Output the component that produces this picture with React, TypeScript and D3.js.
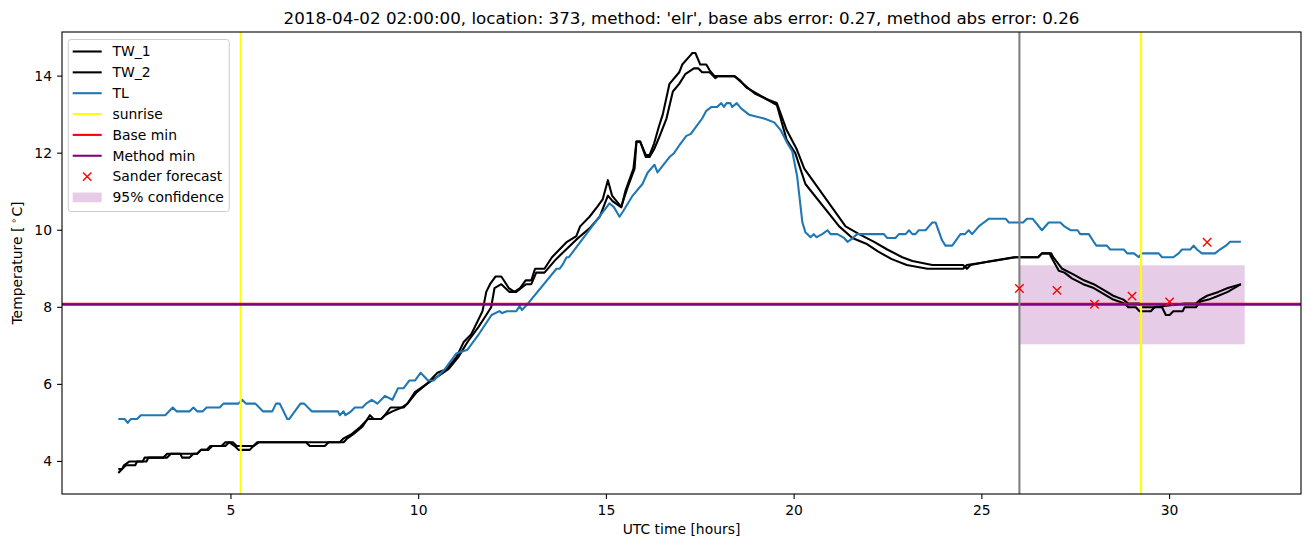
import * as d3 from "d3";

// hour, temperature pairs
const tw1: [number, number][] = [
  [2.0, 3.7], [2.1, 3.8], [2.2, 3.9], [2.45, 3.9], [2.5, 4.0], [2.75, 4.0], [2.8, 4.1], [3.3, 4.1],
  [3.4, 4.2], [4.1, 4.2], [4.2, 4.3], [4.4, 4.3], [4.5, 4.4], [4.85, 4.4], [4.95, 4.5], [5.05, 4.5],
  [5.15, 4.4], [5.6, 4.4], [5.7, 4.5], [7.0, 4.5], [7.1, 4.4], [7.5, 4.4], [7.6, 4.5], [8.0, 4.5],
  [8.1, 4.6], [8.25, 4.7], [8.5, 4.9], [8.7, 5.2], [8.8, 5.1], [9.0, 5.1], [9.1, 5.2], [9.25, 5.4],
  [9.6, 5.4], [9.7, 5.5], [9.9, 5.8], [10.2, 6.0], [10.5, 6.3], [10.75, 6.4], [11.0, 6.7], [11.2, 7.1],
  [11.4, 7.3], [11.55, 7.6], [11.7, 7.9], [11.8, 8.4], [11.9, 8.6], [12.05, 8.8], [12.2, 8.8],
  [12.4, 8.5], [12.55, 8.4], [12.7, 8.5], [12.85, 8.7], [13.0, 8.7], [13.1, 9.0], [13.35, 9.0],
  [13.55, 9.3], [13.95, 9.7], [14.2, 9.85], [14.3, 10.1], [14.55, 10.35], [14.75, 10.6], [14.9, 10.8],
  [15.04, 11.3], [15.15, 10.9], [15.4, 10.6], [15.5, 11.0], [15.72, 11.6], [15.8, 12.3], [15.9, 12.3],
  [16.05, 11.95], [16.15, 11.95], [16.27, 12.25], [16.4, 12.7], [16.5, 13.0], [16.68, 13.8],
  [16.94, 14.1], [17.02, 14.3], [17.2, 14.5], [17.29, 14.6], [17.37, 14.6], [17.5, 14.3], [17.66, 14.3],
  [17.75, 14.15], [17.88, 14.0], [18.41, 14.0], [18.55, 13.9], [18.73, 13.7], [19.0, 13.55],
  [19.27, 13.4], [19.54, 13.3], [19.8, 12.6], [20.07, 12.1], [20.27, 11.6], [20.49, 11.3],
  [21.37, 10.1], [21.73, 9.9], [22.13, 9.7], [22.48, 9.5], [22.88, 9.3], [23.15, 9.2], [23.68, 9.1],
  [24.5, 9.1], [24.6, 9.0], [24.7, 9.1], [25.25, 9.2], [25.85, 9.3], [26.5, 9.3], [26.6, 9.4],
  [26.85, 9.4], [26.9, 9.3], [27.14, 9.0], [27.45, 8.85], [27.72, 8.7], [27.98, 8.6], [28.24, 8.45],
  [28.5, 8.3], [28.77, 8.2], [28.9, 8.1], [29.2, 8.1], [29.26, 8.0], [29.6, 8.0], [30.4, 8.1],
  [30.7, 8.1], [30.82, 8.2], [31.0, 8.3], [31.3, 8.4], [31.55, 8.5], [31.9, 8.6],
];

const tw2: [number, number][] = [
  [2.0, 3.8], [2.1, 3.8], [2.15, 3.9], [2.3, 4.0], [2.65, 4.0], [2.7, 4.1], [3.2, 4.1], [3.3, 4.2],
  [3.65, 4.2], [3.7, 4.1], [3.9, 4.1], [4.0, 4.2], [4.1, 4.2], [4.2, 4.3], [4.35, 4.3], [4.45, 4.4],
  [4.75, 4.4], [4.85, 4.5], [4.95, 4.5], [5.1, 4.4], [5.2, 4.3], [5.5, 4.3], [5.6, 4.4], [5.75, 4.5],
  [7.9, 4.5], [8.0, 4.6], [8.2, 4.7], [8.45, 4.9], [8.65, 5.1], [9.0, 5.1], [9.1, 5.2], [9.3, 5.3],
  [9.55, 5.4], [9.7, 5.5], [9.95, 5.8], [10.2, 6.0], [10.5, 6.2], [10.8, 6.4], [11.05, 6.7],
  [11.3, 7.1], [11.6, 7.5], [11.8, 7.8], [11.93, 8.0], [12.02, 8.5], [12.2, 8.6], [12.42, 8.4],
  [12.6, 8.4], [12.86, 8.6], [13.0, 8.6], [13.13, 8.9], [13.35, 8.9], [13.66, 9.25], [14.19, 9.75],
  [14.55, 10.05], [14.82, 10.35], [15.04, 10.9], [15.17, 10.75], [15.39, 10.6], [15.56, 11.1],
  [15.75, 11.6], [15.8, 12.3], [15.9, 12.3], [16.05, 11.9], [16.15, 11.9], [16.27, 12.1], [16.4, 12.4],
  [16.6, 12.9], [16.77, 13.6], [16.94, 13.8], [17.1, 14.05], [17.33, 14.2], [17.45, 14.2],
  [17.55, 14.1], [17.75, 14.1], [17.9, 13.95], [17.97, 14.0], [18.41, 14.0], [18.64, 13.8],
  [18.95, 13.55], [19.27, 13.4], [19.54, 13.25], [19.8, 12.35], [20.03, 12.0], [20.3, 11.2],
  [21.2, 10.1], [21.55, 9.8], [21.92, 9.65], [22.23, 9.45], [22.6, 9.25], [23.0, 9.1], [23.55, 9.0],
  [24.5, 9.0], [24.6, 9.1], [25.3, 9.2], [25.9, 9.3], [26.5, 9.3], [26.6, 9.4], [26.8, 9.4],
  [26.85, 9.3], [27.05, 8.95], [27.2, 8.9], [27.4, 8.75], [27.7, 8.6], [27.98, 8.5], [28.24, 8.35],
  [28.5, 8.2], [28.8, 8.1], [28.9, 8.0], [29.1, 8.0], [29.2, 7.9], [29.5, 7.9], [29.6, 8.0],
  [29.8, 8.0], [29.9, 7.8], [30.0, 7.8], [30.1, 7.9], [30.35, 7.9], [30.4, 8.0], [30.7, 8.0],
  [30.82, 8.15], [31.04, 8.2], [31.3, 8.3], [31.55, 8.4], [31.9, 8.6],
];

const tl: [number, number][] = [
  [2.0, 5.1], [2.17, 5.1], [2.25, 5.0], [2.33, 5.1], [2.5, 5.1], [2.6, 5.2], [3.25, 5.2], [3.45, 5.4],
  [3.55, 5.3], [3.9, 5.3], [4.0, 5.4], [4.1, 5.3], [4.25, 5.3], [4.35, 5.4], [4.7, 5.4], [4.8, 5.5],
  [5.2, 5.5], [5.3, 5.6], [5.4, 5.5], [5.65, 5.5], [5.85, 5.3], [6.1, 5.3], [6.2, 5.5], [6.3, 5.5],
  [6.5, 5.1], [6.55, 5.1], [6.7, 5.3], [6.85, 5.5], [6.95, 5.5], [7.15, 5.3], [7.85, 5.3], [7.9, 5.2],
  [8.0, 5.3], [8.05, 5.2], [8.2, 5.3], [8.3, 5.4], [8.5, 5.4], [8.6, 5.5], [8.75, 5.6], [8.9, 5.5],
  [9.1, 5.7], [9.3, 5.6], [9.45, 5.9], [9.6, 5.9], [9.75, 6.1], [9.9, 6.1], [10.05, 6.3], [10.25, 6.1],
  [10.4, 6.1], [10.7, 6.4], [11.0, 6.8], [11.3, 6.9], [11.6, 7.3], [11.94, 7.8], [12.15, 7.9],
  [12.22, 7.85], [12.35, 7.9], [12.6, 7.9], [12.69, 8.03], [12.75, 7.93], [12.87, 8.05], [13.67, 9.0],
  [13.75, 9.0], [13.83, 9.1], [13.94, 9.3], [14.0, 9.3], [15.08, 10.7], [15.2, 10.6], [15.35, 10.35],
  [15.45, 10.5], [15.7, 10.9], [15.96, 11.2], [16.1, 11.5], [16.28, 11.7], [16.36, 11.5], [16.68, 11.9],
  [16.8, 12.0], [16.94, 12.2], [17.13, 12.45], [17.25, 12.5], [17.4, 12.7], [17.55, 12.9], [17.66, 13.1],
  [17.8, 13.2], [17.95, 13.2], [18.06, 13.3], [18.13, 13.2], [18.2, 13.3], [18.3, 13.3], [18.35, 13.2],
  [18.47, 13.3], [18.6, 13.15], [18.8, 13.0], [19.2, 12.9], [19.47, 12.8], [19.64, 12.6], [19.82, 12.26],
  [19.95, 12.05], [20.08, 11.4], [20.22, 10.2], [20.3, 9.95], [20.44, 9.82], [20.52, 9.9], [20.6, 9.82],
  [20.75, 9.9], [20.89, 10.0], [20.97, 9.9], [21.15, 9.9], [21.33, 9.8], [21.42, 9.7], [21.5, 9.75],
  [21.68, 9.9], [22.39, 9.9], [22.48, 9.8], [22.7, 9.8], [22.79, 9.9], [22.97, 9.9], [23.06, 10.0],
  [23.15, 9.9], [23.23, 9.9], [23.32, 10.0], [23.5, 10.0], [23.59, 10.1], [23.68, 10.2], [23.77, 10.2],
  [23.86, 9.95], [23.94, 9.74], [24.03, 9.6], [24.21, 9.6], [24.43, 9.9], [24.55, 9.9], [24.65, 10.0],
  [24.74, 9.9], [24.92, 10.1], [25.05, 10.2], [25.19, 10.3], [25.63, 10.3], [25.72, 10.2], [26.1, 10.2],
  [26.2, 10.3], [26.35, 10.3], [26.6, 10.0], [26.78, 10.2], [27.09, 10.2], [27.2, 10.1], [27.36, 10.0],
  [27.55, 10.0], [27.62, 9.9], [27.85, 9.9], [27.98, 9.7], [28.05, 9.6], [28.33, 9.6], [28.42, 9.5],
  [28.78, 9.5], [28.87, 9.4], [29.05, 9.4], [29.18, 9.3], [29.26, 9.4], [29.71, 9.4], [29.8, 9.3],
  [30.1, 9.3], [30.24, 9.4], [30.33, 9.5], [30.55, 9.5], [30.64, 9.6], [30.73, 9.5], [30.86, 9.4],
  [31.21, 9.4], [31.34, 9.5], [31.5, 9.6], [31.61, 9.7], [31.9, 9.7],
];

const sunriseHours = [5.26, 29.24];
const forecastHour = 26;
const baseMin = 8.09;
const methodMin = 8.07;
const sanderHours = [26, 27, 28, 29, 30, 31];
const sanderTemps = [8.49, 8.44, 8.08, 8.29, 8.14, 9.69];
const confHours = [26, 32];
const confBounds = [7.04, 9.09];
const xTicks = [5, 10, 15, 20, 25, 30];
const yTicks = [4, 6, 8, 10, 12, 14];
const title =
  "2018-04-02 02:00:00, location: 373, method: 'elr', base abs error: 0.27, method abs error: 0.26";

const W = 1310;
const H = 547;
const box = { left: 62, right: 1301, top: 32, bottom: 494 };
const FONT = "DejaVu Sans, sans-serif";

export default function App() {
  // matplotlib style 5% margins around the data
  const xs = [...tw1, ...tw2, ...tl].map((d) => d[0]).concat(confHours);
  const ys = [...tw1, ...tw2, ...tl].map((d) => d[1]).concat(sanderTemps, confBounds);
  const [xMin, xMax] = d3.extent(xs) as [number, number];
  const [yMin, yMax] = d3.extent(ys) as [number, number];
  const px = (xMax - xMin) * 0.05;
  const py = (yMax - yMin) * 0.05;

  const x = d3.scaleLinear().domain([xMin - px, xMax + px]).range([box.left, box.right]);
  const y = d3.scaleLinear().domain([yMin - py, yMax + py]).range([box.bottom, box.top]);

  const line = d3
    .line<[number, number]>()
    .x((d) => x(d[0]))
    .y((d) => y(d[1]));

  const lw = 2.08;
  const legendItems = [
    { label: "TW_1", kind: "line", color: "#000000" },
    { label: "TW_2", kind: "line", color: "#000000" },
    { label: "TL", kind: "line", color: "#1f77b4" },
    { label: "sunrise", kind: "line", color: "#ffff00" },
    { label: "Base min", kind: "line", color: "#ff0000" },
    { label: "Method min", kind: "line", color: "#800080" },
    { label: "Sander forecast", kind: "marker", color: "#ff0000" },
    { label: "95% confidence", kind: "patch", color: "#800080" },
  ];

  const cross = (cx: number, cy: number, r: number) =>
    `M${cx - r},${cy - r}L${cx + r},${cy + r}M${cx - r},${cy + r}L${cx + r},${cy - r}`;

  return (
    <svg
      width={W}
      height={H}
      style={{ position: "absolute", left: 0, top: 0, background: "#fff" }}
      fontFamily={FONT}
    >
      <rect width={W} height={H} fill="#fff" />
      <text x={(box.left + box.right) / 2} y={24} textAnchor="middle" fontSize={16.7}>
        {title}
      </text>

      {/* confidence band */}
      <rect
        x={x(confHours[0])}
        y={y(confBounds[1])}
        width={x(confHours[1]) - x(confHours[0])}
        height={y(confBounds[0]) - y(confBounds[1])}
        fill="#800080"
        fillOpacity={0.2}
      />

      <path d={line(tw1) ?? ""} fill="none" stroke="#000" strokeWidth={lw} strokeLinejoin="round" />
      <path d={line(tw2) ?? ""} fill="none" stroke="#000" strokeWidth={lw} strokeLinejoin="round" />
      <path d={line(tl) ?? ""} fill="none" stroke="#1f77b4" strokeWidth={lw} strokeLinejoin="round" />

      {sunriseHours.map((h, i) => (
        <line key={i} x1={x(h)} x2={x(h)} y1={box.top} y2={box.bottom} stroke="#ffff00" strokeWidth={lw} />
      ))}
      <line x1={box.left} x2={box.right} y1={y(baseMin)} y2={y(baseMin)} stroke="#ff0000" strokeWidth={lw} />
      <line x1={box.left} x2={box.right} y1={y(methodMin)} y2={y(methodMin)} stroke="#800080" strokeWidth={lw} />
      <line
        x1={x(forecastHour)}
        x2={x(forecastHour)}
        y1={box.top}
        y2={box.bottom}
        stroke="#808080"
        strokeWidth={lw}
      />
      {sanderHours.map((h, i) => (
        <path key={i} d={cross(x(h), y(sanderTemps[i]), 4.2)} stroke="#ff0000" strokeWidth={1.4} fill="none" />
      ))}

      {/* frame */}
      <rect
        x={box.left}
        y={box.top}
        width={box.right - box.left}
        height={box.bottom - box.top}
        fill="none"
        stroke="#000"
        strokeWidth={1.1}
      />

      {xTicks.map((t) => (
        <g key={t}>
          <line x1={x(t)} x2={x(t)} y1={box.bottom} y2={box.bottom + 4.9} stroke="#000" strokeWidth={1.1} />
          <text x={x(t)} y={515} textAnchor="middle" fontSize={13.9}>
            {t}
          </text>
        </g>
      ))}
      {yTicks.map((t) => (
        <g key={t}>
          <line x1={box.left - 4.9} x2={box.left} y1={y(t)} y2={y(t)} stroke="#000" strokeWidth={1.1} />
          <text x={52} y={y(t) + 5} textAnchor="end" fontSize={13.9}>
            {t}
          </text>
        </g>
      ))}

      <text x={(box.left + box.right) / 2} y={534} textAnchor="middle" fontSize={13.9}>
        UTC time [hours]
      </text>
      <text
        transform={`translate(22,${(box.top + box.bottom) / 2}) rotate(-90)`}
        textAnchor="middle"
        fontSize={13.9}
      >
        Temperature [<tspan fontSize={9.7} dx={3} dy={-5}>{"\u2218"}</tspan>
        <tspan dx={1} dy={5}>C]</tspan>
      </text>

      {/* legend */}
      <g>
        <rect
          x={68.3}
          y={39.5}
          width={161}
          height={172}
          rx={2.8}
          fill="#fff"
          fillOpacity={0.8}
          stroke="#cccccc"
          strokeWidth={1}
        />
        {legendItems.map((it, i) => {
          const cy = 51.5 + i * 20.85;
          return (
            <g key={it.label}>
              {it.kind === "line" && (
                <line x1={72.7} x2={101.7} y1={cy} y2={cy} stroke={it.color} strokeWidth={lw} />
              )}
              {it.kind === "marker" && (
                <path d={cross(87.2, cy, 4.2)} stroke={it.color} strokeWidth={1.4} fill="none" />
              )}
              {it.kind === "patch" && (
                <rect x={72.7} y={cy - 4.9} width={29} height={9.7} fill={it.color} fillOpacity={0.2} />
              )}
              <text x={112.5} y={cy + 4.8} fontSize={13.9}>
                {it.label}
              </text>
            </g>
          );
        })}
      </g>
    </svg>
  );
}
